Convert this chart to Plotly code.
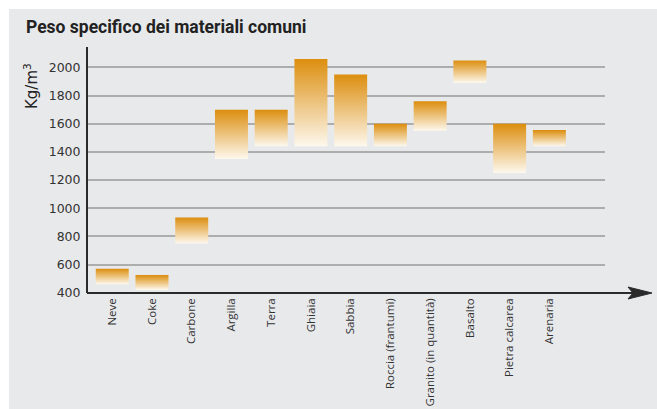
import plotly.graph_objects as go

categories = ["Neve", "Coke", "Carbone", "Argilla", "Terra", "Ghiaia", "Sabbia",
              "Roccia (frantumi)", "Granito (in quantità)", "Basalto",
              "Pietra calcarea", "Arenaria"]
low_values = [460, 420, 750, 1350, 1440, 1440, 1440, 1440, 1550, 1890, 1250, 1440]
high_values = [570, 525, 935, 1700, 1700, 2060, 1950, 1600, 1760, 2050, 1600, 1555]
y_ticks = [400, 600, 800, 1000, 1200, 1400, 1600, 1800, 2000]

BAR_W = 0.83
TOP_C = "#dc8e0e"
BOT_C = "#fdf8ee"

fig = go.Figure()
for i, (cat, lo, hi) in enumerate(zip(categories, low_values, high_values)):
    x0, x1 = i - BAR_W / 2, i + BAR_W / 2
    fig.add_trace(go.Scatter(
        x=[x0, x1, x1, x0, x0], y=[lo, lo, hi, hi, lo],
        mode="lines", fill="toself", line=dict(width=0),
        fillgradient=dict(type="vertical", colorscale=[[0, BOT_C], [1, TOP_C]]),
        hoverinfo="skip", showlegend=False, name=cat,
    ))

# invisible trace to attach category ticks
fig.add_trace(go.Scatter(x=list(range(len(categories))), y=[None] * len(categories),
                         mode="markers", showlegend=False, hoverinfo="skip"))

W, H = 657, 409
L, R, T, B = 88, 52, 47, 116
pw, ph = W - L - R, H - T - B

def px_x(p):
    return (p - L) / pw

def px_y(p):
    return (H - B - p) / ph

# x axis arrow (line + notched head), in paper coordinates
ax_y = px_y(293)
head_path = "M {:.5f},{:.5f} L {:.5f},{:.5f} L {:.5f},{:.5f} L {:.5f},{:.5f} Z".format(
    px_x(652), px_y(293), px_x(628), px_y(287), px_x(633), px_y(293), px_x(628), px_y(299))

fig.update_layout(
    width=W, height=H, autosize=False,
    margin=dict(l=L, r=R, t=T, b=B, pad=0, autoexpand=False),
    paper_bgcolor="white",
    plot_bgcolor="#e8e9eb",
    font=dict(family="DejaVu Sans", color="#333333"),
    xaxis=dict(
        range=[-0.61, 12.4], automargin=False,
        tickmode="array", tickvals=list(range(len(categories))), ticktext=categories,
        tickangle=-90, showgrid=False, zeroline=False, showline=False,
        ticks="", tickfont=dict(family="Open Sans", size=11.5, color="#333333"),
        ticklabelstandoff=2,
    ),
    yaxis=dict(
        range=[398, 2145], automargin=False,
        tickmode="array", tickvals=y_ticks,
        showgrid=True, gridcolor="#adadad", gridwidth=2,
        zeroline=False, showline=True, linecolor="#2a2a2a", linewidth=2,
        ticks="", tickfont=dict(family="DejaVu Sans", size=12.5, color="#333333"),
        ticklabelstandoff=3,
    ),
    shapes=[
        dict(type="rect", xref="paper", yref="paper",
             x0=px_x(9), x1=px_x(657), y0=px_y(409), y1=px_y(9),
             fillcolor="#e8e9eb", line=dict(width=0), layer="below"),
        dict(type="line", xref="paper", yref="paper",
             x0=px_x(87), x1=px_x(636), y0=ax_y, y1=ax_y,
             line=dict(color="#2a2a2a", width=2), layer="above"),
        dict(type="path", xref="paper", yref="paper", path=head_path,
             fillcolor="#2a2a2a", line=dict(color="#2a2a2a", width=1), layer="above"),
    ],
    annotations=[
        dict(text="<b>Peso specifico dei materiali comuni</b>", xref="paper", yref="paper",
             x=px_x(24), y=px_y(27), xanchor="left", yanchor="middle", showarrow=False,
             font=dict(family="Roboto", size=17.5, color="#222222")),
        dict(text="Kg/m<sup>3</sup>", xref="paper", yref="paper",
             x=px_x(31), y=px_y(86), xanchor="center", yanchor="middle", showarrow=False,
             textangle=-90, font=dict(family="DejaVu Sans", size=15, color="#222222")),
    ],
)

fig.write_html("out.html", config={"displayModeBar": False},
               post_script="document.body.style.margin='0px';document.body.style.padding='0px';")
